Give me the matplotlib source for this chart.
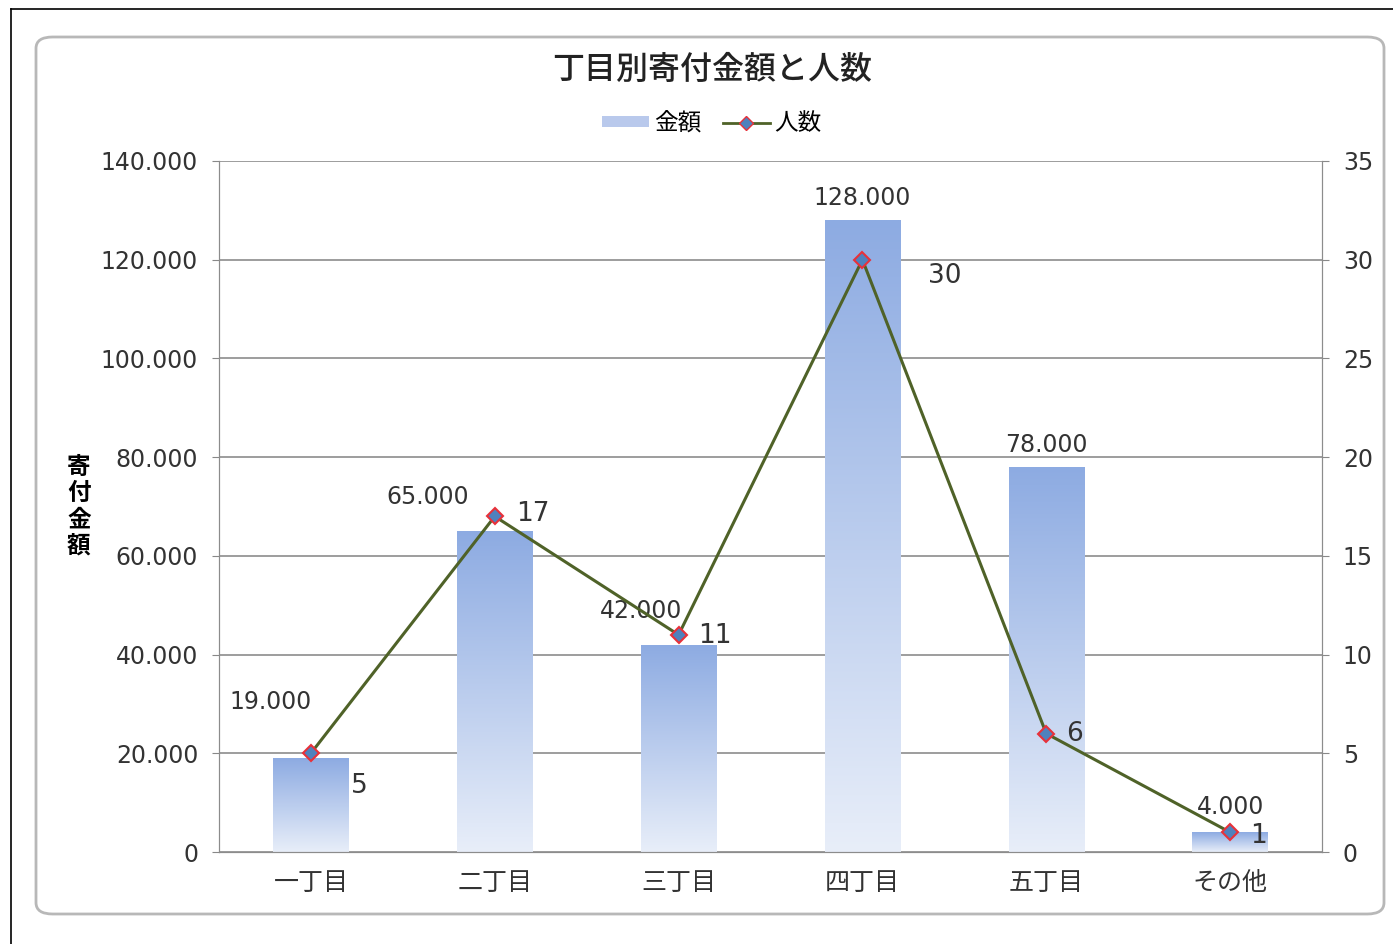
import numpy as np
import matplotlib
matplotlib.use('Agg')
import matplotlib.pyplot as plt
from matplotlib.patches import FancyBboxPatch
from matplotlib.colors import LinearSegmentedColormap
from matplotlib.lines import Line2D

plt.rcParams['font.family'] = ['DejaVu Sans', 'Noto Sans CJK JP']

# datos
categorias = ['一丁目', '二丁目', '三丁目', '四丁目', '五丁目', 'その他']
kingaku = [19000, 65000, 42000, 128000, 78000, 4000]
ninzu = [5, 17, 11, 30, 6, 1]
etiquetas_y = ['0', '20.000', '40.000', '60.000', '80.000', '100.000', '120.000', '140.000']

# desplazamientos de las etiquetas (pixeles)
off_kingaku = [(-40, 44), (-67, 22), (-38, 22), (0, 10), (0, 10), (0, 13)]
off_ninzu = [(48, -33), (38, 2), (36, -1), (82, -16), (28, 0), (28, -4)]

texto = '#333333'

fig = plt.figure(figsize=(13.93, 9.44), dpi=100)

# marco exterior
fig.add_artist(Line2D([11/1393, 11/1393], [0, 1 - 9/944], color='black', lw=1.2))
fig.add_artist(Line2D([11/1393, 1], [1 - 9/944, 1 - 9/944], color='black', lw=1.2))
marco = FancyBboxPatch((36/1393, 1 - 914/944), 1348/1393, 877/944,
                       boxstyle='round,pad=0,rounding_size=0.012',
                       transform=fig.transFigure, facecolor='white',
                       edgecolor='#b8b8b8', lw=2, zorder=0)
fig.add_artist(marco)

ax = fig.add_axes([219/1393, 1 - 852/944, 1103/1393, 691/944])
ax.set_facecolor('none')
x = np.arange(len(categorias))

bars = ax.bar(x, kingaku, width=0.41, color='none', edgecolor='none', zorder=2)
cmap = LinearSegmentedColormap.from_list('g', ['#e8eef9', '#8dabe2'])
grad = np.linspace(0, 1, 256).reshape(-1, 1)
for b in bars:
    bx, by = b.get_x(), b.get_y()
    im = ax.imshow(grad, cmap=cmap, origin='lower', aspect='auto',
                   extent=[bx, bx + b.get_width(), by, by + b.get_height()], zorder=2)
    im.set_clip_path(b)

ax.set_xlim(-0.5, len(categorias) - 0.5)
ax.set_ylim(0, 140000)
ax.set_yticks(np.arange(0, 140001, 20000))
ax.set_yticklabels(etiquetas_y)
ax.set_xticks(x)
ax.set_xticklabels(categorias, fontsize=18)
ax.tick_params(axis='y', labelsize=17, length=5, color='#888888', pad=10, labelcolor=texto)
ax.tick_params(axis='x', length=0, pad=14, labelcolor=texto)
ax.grid(axis='y', color='#8c8c8c', lw=1.2, zorder=1)
ax.set_axisbelow(True)
for s in ax.spines.values():
    s.set_color('#8c8c8c')
ax.spines['top'].set_visible(False)

ax.set_ylabel('寄\n付\n金\n額', rotation=0, fontsize=17, fontweight='bold',
              va='center', ha='center', linespacing=1.12, labelpad=0)
ax.yaxis.set_label_coords(-0.127, 0.5)

ax2 = ax.twinx()
ax2.set_ylim(0, 35)
ax2.set_yticks(np.arange(0, 36, 5))
ax2.tick_params(axis='y', labelsize=17, length=5, color='#888888', pad=10, labelcolor=texto)
for s in ax2.spines.values():
    s.set_color('#8c8c8c')
ax2.spines['top'].set_visible(False)
ax2.plot(x, ninzu, color='#4f6228', lw=2.2, marker='D', markersize=8,
         markerfacecolor='#4f81bd', markeredgecolor='#e8313a', markeredgewidth=1.5, zorder=3)

for i in range(len(categorias)):
    ax.annotate(f'{kingaku[i]:,}'.replace(',', '.'), (x[i], kingaku[i]),
                xytext=off_kingaku[i], textcoords='offset pixels',
                ha='center', va='bottom', fontsize=17, color=texto, zorder=5)
    ax2.annotate(str(ninzu[i]), (x[i], ninzu[i]), xytext=off_ninzu[i],
                 textcoords='offset pixels', ha='center', va='center',
                 fontsize=19, color=texto, zorder=5)

fig.text(712/1393, 1 - 70/944, '丁目別寄付金額と人数', ha='center', va='center',
         fontsize=23, fontweight='medium', color='#222222')

h1 = plt.Rectangle((0, 0), 1, 1, facecolor='#b9c9ec', edgecolor='none')
h2 = Line2D([], [], color='#4f6228', lw=2, marker='D', markersize=7,
            markerfacecolor='#4f81bd', markeredgecolor='#e8313a')
fig.legend([h1, h2], ['金額', '人数'], loc='center', bbox_to_anchor=(712/1393, 1 - 123/944),
           ncol=2, frameon=False, fontsize=17, handlelength=2.0, handleheight=0.35,
           columnspacing=0.9, handletextpad=0.2)

fig.savefig('out.png', dpi=100)
